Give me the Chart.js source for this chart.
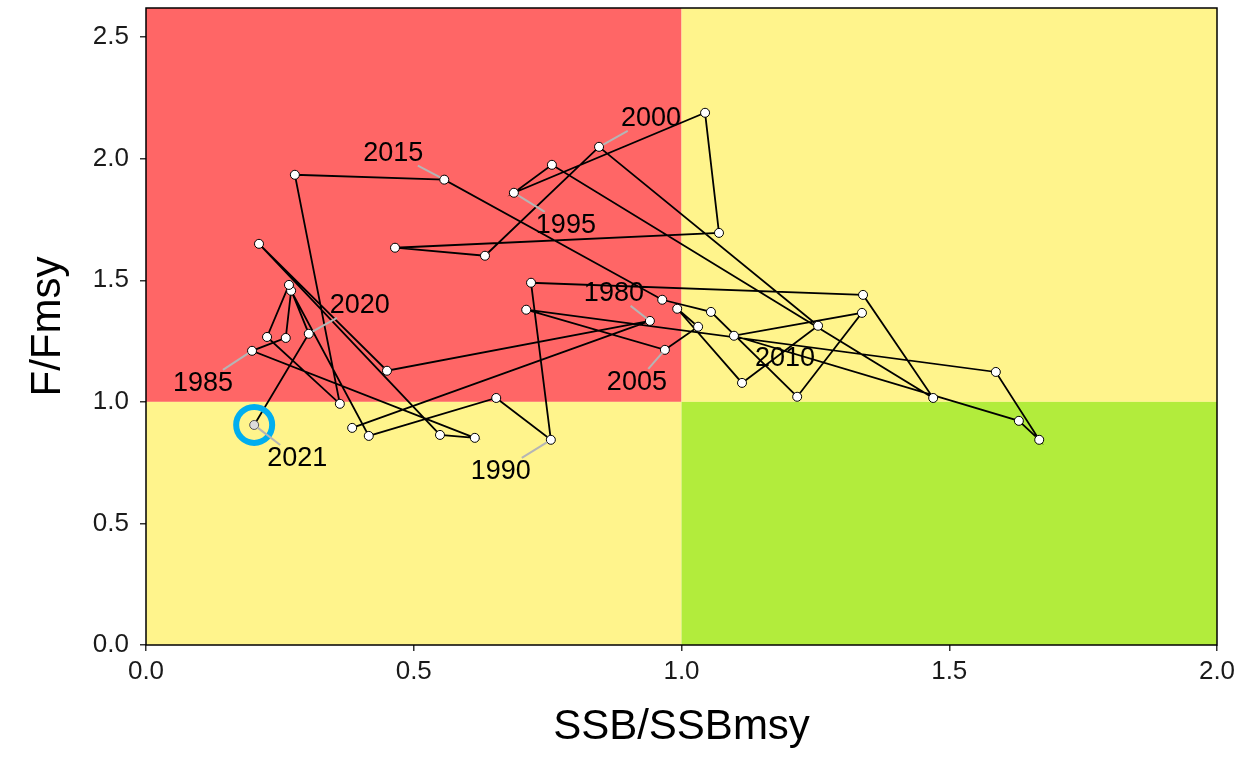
<!DOCTYPE html>
<html>
<head>
<meta charset="utf-8">
<script src="https://cdn.jsdelivr.net/npm/chart.js@4.4.0/dist/chart.umd.min.js"></script>
<style>
  html, body { margin: 0; padding: 0; background: #fff; }
</style>
</head>
<body>
<canvas id="myChart" width="1253" height="757"></canvas>
<script>
// stock trajectory, one point per year
const years = [
  1979, 1980, 1981, 1982, 1983, 1984, 1985, 1986, 1987, 1988, 1989,
  1990, 1991, 1992, 1993, 1994, 1995, 1996, 1997, 1998, 1999,
  2000, 2001, 2002, 2003, 2004, 2005, 2006, 2007, 2008, 2009,
  2010, 2011, 2012, 2013, 2014, 2015, 2016, 2017, 2018, 2019,
  2020, 2021
];
const ssbRatio = [
  0.385, 0.941, 0.450, 0.211, 0.549, 0.614, 0.198, 0.261, 0.271, 0.416, 0.654,
  0.756, 0.719, 1.339, 1.470, 0.758, 0.687, 1.044, 1.070, 0.465, 0.633,
  0.846, 1.255, 1.113, 0.992, 1.031, 0.969, 0.710, 1.587, 1.668, 1.630,
  1.098, 1.337, 1.216, 1.055, 0.964, 0.557, 0.278, 0.362, 0.226, 0.267,
  0.304, 0.202
];
const fRatio = [
  0.893, 1.333, 1.128, 1.650, 0.864, 0.852, 1.210, 1.263, 1.457, 0.860, 1.016,
  0.844, 1.490, 1.440, 1.016, 1.975, 1.860, 2.189, 1.695, 1.634, 1.601,
  2.049, 1.313, 1.078, 1.383, 1.309, 1.214, 1.379, 1.123, 0.844, 0.922,
  1.272, 1.366, 1.021, 1.370, 1.420, 1.914, 1.934, 0.992, 1.267, 1.481,
  1.280, 0.905
];
const labelledYears = [1980, 1985, 1990, 1995, 2000, 2005, 2010, 2015, 2020, 2021];
const xTicks = [0, 0.5, 1.0, 1.5, 2.0];
const yTicks = [0, 0.5, 1.0, 1.5, 2.0, 2.5];

// where each year label sits relative to its point (px), like ggrepel did it
const labelNudge = {
  1980: [-36, -28], 1985: [-49, 32], 1990: [-50, 31], 1995: [52, 32],
  2000: [52, -29], 2005: [-28, 32], 2010: [51, 22], 2015: [-51, -27],
  2020: [51, -29], 2021: [43, 33]
};
const noLeader = [2010];

const FONT = "'Liberation Sans', Arial, sans-serif";

const points = years.map((yr, i) => ({ x: ssbRatio[i], y: fRatio[i] }));
const last = points.length - 1;

const kobeBackground = {
  id: 'kobeBackground',
  beforeDatasetsDraw(chart) {
    const { ctx, chartArea: a, scales: { x, y } } = chart;
    const x1 = x.getPixelForValue(1), y1 = y.getPixelForValue(1);
    ctx.save();
    ctx.fillStyle = '#ff6666';
    ctx.fillRect(a.left, a.top, x1 - a.left, y1 - a.top);
    ctx.fillStyle = '#fff48c';
    ctx.fillRect(x1, a.top, a.right - x1, y1 - a.top);
    ctx.fillRect(a.left, y1, x1 - a.left, a.bottom - y1);
    ctx.fillStyle = '#b2ec3c';
    ctx.fillRect(x1, y1, a.right - x1, a.bottom - y1);
    ctx.restore();
  },
  afterDraw(chart) {
    const { ctx, chartArea: a } = chart;
    ctx.save();
    ctx.strokeStyle = '#000';
    ctx.lineWidth = 1.5;
    ctx.strokeRect(a.left, a.top, a.right - a.left, a.bottom - a.top);
    ctx.restore();
  }
};

const yearLabels = {
  id: 'yearLabels',
  afterDatasetsDraw(chart) {
    const { ctx } = chart;
    const meta = chart.getDatasetMeta(0);
    ctx.save();
    ctx.font = '27px ' + FONT;
    ctx.textAlign = 'center';
    ctx.textBaseline = 'middle';
    labelledYears.forEach(yr => {
      const i = years.indexOf(yr);
      const el = meta.data[i];
      const [dx, dy] = labelNudge[yr];
      const cx = el.x + dx, cy = el.y + dy;
      const w = ctx.measureText(String(yr)).width;
      if (noLeader.indexOf(yr) < 0) {
        const vx = el.x - cx, vy = el.y - cy;
        const t = Math.min((w / 2 + 3) / Math.abs(vx || 1e-6), 13 / Math.abs(vy || 1e-6));
        if (t < 1) {
          ctx.strokeStyle = '#b5b5b5';
          ctx.lineWidth = 2;
          ctx.beginPath();
          ctx.moveTo(el.x - vx * 0.08, el.y - vy * 0.08);
          ctx.lineTo(cx + vx * t, cy + vy * t);
          ctx.stroke();
        }
      }
      ctx.fillStyle = '#000';
      ctx.fillText(String(yr), cx, cy + 1);
    });
    ctx.restore();
  }
};

const ctx = document.getElementById('myChart').getContext('2d');
const myChart = new Chart(ctx, {
  type: 'scatter',
  data: {
    datasets: [
      {
        label: 'trajectory',
        data: points,
        showLine: true,
        borderColor: '#000',
        borderWidth: 1.8,
        tension: 0,
        pointRadius: 4.5,
        pointBorderWidth: 1,
        pointBackgroundColor: points.map((p, i) => i === last ? '#dcdcdc' : '#fff'),
        pointBorderColor: points.map((p, i) => i === last ? '#555' : '#000'),
        order: 2
      },
      {
        label: 'latest',
        data: [points[last]],
        showLine: false,
        pointRadius: 18,
        pointBorderWidth: 6,
        pointBackgroundColor: 'rgba(0,0,0,0)',
        pointBorderColor: '#00aeef',
        order: 1
      }
    ]
  },
  options: {
    responsive: false,
    animation: false,
    events: [],
    layout: { autoPadding: false, padding: { top: 8, right: 36, left: 0, bottom: 0 } },
    plugins: { legend: { display: false }, tooltip: { enabled: false } },
    scales: {
      x: {
        type: 'linear',
        min: 0,
        max: 2,
        afterBuildTicks: s => { s.ticks = xTicks.map(v => ({ value: v })); },
        afterFit: s => { s.height = 112; s.paddingLeft = 0; s.paddingRight = 0; },
        border: { display: false },
        grid: { drawOnChartArea: false, drawTicks: true, tickLength: 6, color: '#333', lineWidth: 1.5 },
        ticks: {
          color: '#1a1a1a',
          font: { family: FONT, size: 26 },
          padding: 5,
          maxRotation: 0,
          callback: v => Number(v).toFixed(1)
        },
        title: {
          display: true,
          text: 'SSB/SSBmsy',
          color: '#000',
          font: { family: FONT, size: 42 },
          padding: { top: 0, bottom: 4 }
        }
      },
      y: {
        type: 'linear',
        min: 0,
        max: 2.62,
        afterBuildTicks: s => { s.ticks = yTicks.map(v => ({ value: v })); },
        afterFit: s => { s.width = 146; s.paddingTop = 0; s.paddingBottom = 0; },
        border: { display: false },
        grid: { drawOnChartArea: false, drawTicks: true, tickLength: 6, color: '#333', lineWidth: 1.5 },
        ticks: {
          color: '#1a1a1a',
          font: { family: FONT, size: 26 },
          padding: 11,
          callback: v => Number(v).toFixed(1)
        },
        title: {
          display: true,
          text: 'F/Fmsy',
          color: '#000',
          font: { family: FONT, size: 42 },
          padding: { top: 23, bottom: 0 }
        }
      }
    }
  },
  plugins: [kobeBackground, yearLabels]
});
</script>
</body>
</html>
